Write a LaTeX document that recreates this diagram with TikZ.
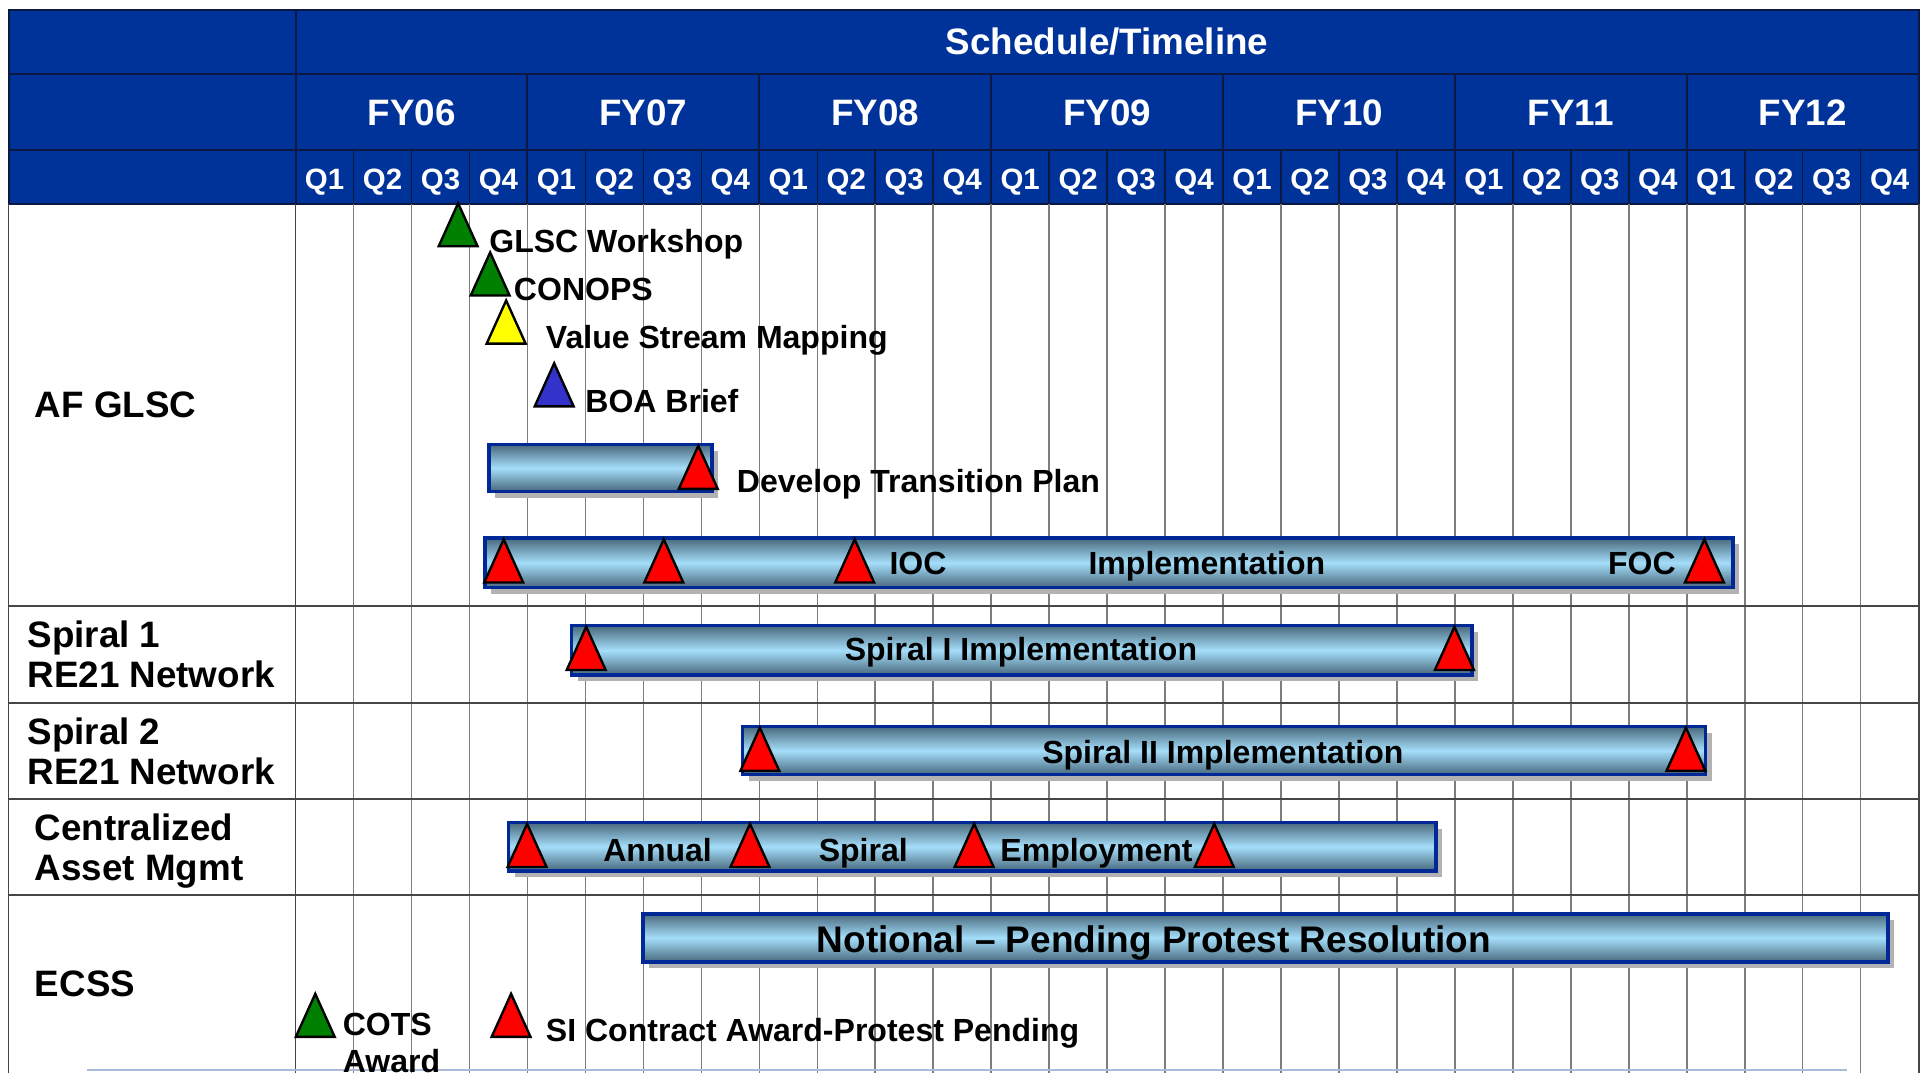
\documentclass[tikz,border=0pt]{standalone}
\usepackage{fontspec}
\setmainfont{Liberation Sans}
\usepackage{tikz}
\usetikzlibrary{shadows}
\usepackage{xcolor}
\definecolor{hdrblue}{RGB}{0,51,153}
\definecolor{hdrline}{RGB}{12,24,64}
\definecolor{barlight}{RGB}{165,222,250}
\definecolor{bardark}{RGB}{72,104,124}
\definecolor{barline}{RGB}{0,40,150}
\definecolor{gridgray}{RGB}{125,125,125}
\definecolor{rowgray}{RGB}{70,70,70}
\definecolor{fadeline}{RGB}{170,185,220}
\definecolor{msgreen}{RGB}{0,128,0}
\definecolor{msyellow}{RGB}{255,255,0}
\definecolor{msblue}{RGB}{51,51,204}
\definecolor{msred}{RGB}{255,0,0}
\tikzstyle{hdrtext} = [text=white, inner sep=0pt, anchor=mid, font=\fontsize{17}{19}\selectfont\bfseries]
\tikzstyle{qtext} = [text=white, inner sep=0pt, anchor=mid, font=\fontsize{13.6}{15}\selectfont\bfseries]
\tikzstyle{rowlabel} = [anchor=west, align=left, inner sep=0pt, font=\fontsize{17}{18.5}\selectfont\bfseries]
\tikzstyle{itemtext} = [inner sep=0pt, anchor=mid, font=\fontsize{14.8}{17}\selectfont\bfseries]
\tikzstyle{taskbar} = [draw=barline, line width=1.7pt, top color=bardark, bottom color=bardark, middle color=barlight, drop shadow={shadow xshift=0.1cm, shadow yshift=-0.1cm, fill=black!30, opacity=1}]
\tikzstyle{mstone} = [draw=black, line width=1.1pt]
\tikzstyle{rowline} = [rowgray, line width=0.8pt]
\newcommand{\msmark}[3]{\draw[mstone, fill=#3] (#1,#2) -- ++(-15.8,35) -- ++(31.6,0) -- cycle;}

\begin{document}
\begin{tikzpicture}[x=0.02cm, y=-0.02cm]
\useasboundingbox[fill=white] (0,0) rectangle (1568,871);

% Header band
\fill[hdrblue] (7,8) rectangle (1558,166);
\draw[hdrline, line width=0.9pt] (7,8) rectangle (1558,166);
\draw[hdrline, line width=0.9pt] (7,60) -- (1558,60) (7,122) -- (1558,122) (240,8) -- (240,166);
\foreach \i in {1,...,6} \draw[hdrline, line width=0.9pt] ({240+4*\i*47.07},60) -- ({240+4*\i*47.07},166);
\foreach \j in {1,...,27} \draw[hdrline, line width=0.7pt] ({240+\j*47.07},122) -- ({240+\j*47.07},166);

% Header texts
\node[hdrtext] (sched) at (899,40) {Schedule/Timeline};
\foreach \yr [count=\i from 0] in {06,07,08,09,10,11,12}
  \node[hdrtext] (fy\yr) at ({240+(4*\i+2)*47.07},97) {FY\yr};
\foreach \j in {0,...,27} {
  \pgfmathtruncatemacro\q{mod(\j,4)+1}
  \node[qtext] (q\j) at ({240+(\j+0.5)*47.07},149) {Q\q};
}

% Body grid
\foreach \j in {1,...,27} \draw[gridgray, line width=0.7pt] ({240+\j*47.07},166) -- ({240+\j*47.07},871);
\draw[rowline] (7,166) -- (7,871) (240,166) -- (240,871) (1558,166) -- (1558,871);
\foreach \r in {492,571,649,727} \draw[rowline] (7,\r) -- (1558,\r);
\draw[fadeline, line width=1pt] (71,869) -- (1500,869);

% Row labels
\node[rowlabel] (afglsc) at (28,329) {AF GLSC};
\node[rowlabel] (spiral1) at (22,531) {Spiral 1\\RE21 Network};
\node[rowlabel] (spiral2) at (22,610) {Spiral 2\\RE21 Network};
\node[rowlabel] (cam) at (28,691) {Centralized\\Asset Mgmt};
\node[rowlabel] (ecss) at (28,799) {ECSS};

% Bars
\path[taskbar] (397,361) rectangle (578,399);
\path[taskbar] (394,437) rectangle (1407,477);
\path[taskbar] (464,508) rectangle (1195,548);
\path[taskbar] (603,590) rectangle (1385,629);
\path[taskbar] (413,668) rectangle (1166,707);
\path[taskbar] (522,742) rectangle (1533,781);

% Milestones
\msmark{372}{165}{msgreen}
\msmark{398}{205}{msgreen}
\msmark{411}{244}{msyellow}
\msmark{450}{295}{msblue}
\msmark{567}{362}{msred}
\foreach \x in {409,539,694,1384} {\msmark{\x}{438}{msred}}
\foreach \x in {476,1181} {\msmark{\x}{509}{msred}}
\foreach \x in {617,1369} {\msmark{\x}{591}{msred}}
\foreach \x in {428,609,791,986} {\msmark{\x}{669}{msred}}
\msmark{256}{807}{msgreen}
\msmark{415}{807}{msred}

% Labels
\node[itemtext, anchor=mid west] (glscws) at (397,200) {GLSC Workshop};
\node[itemtext, anchor=mid west] (conops) at (417,239) {CONOPS};
\node[itemtext, anchor=mid west] (vsm) at (443,278) {Value Stream Mapping};
\node[itemtext, anchor=mid west] (boa) at (475,330) {BOA Brief};
\node[itemtext, anchor=mid west] (dtp) at (598,395) {Develop Transition Plan};
\node[itemtext, anchor=mid west] (ioc) at (722,462) {IOC};
\node[itemtext] (impl) at (980,462) {Implementation};
\node[itemtext, anchor=mid east] (foc) at (1361,462) {FOC};
\node[itemtext] (spiimpl) at (829,532) {Spiral I Implementation};
\node[itemtext] (spiiimpl) at (993,615) {Spiral II Implementation};
\node[itemtext] (annual) at (534,695) {Annual};
\node[itemtext] (spiral) at (701,695) {Spiral};
\node[itemtext, anchor=mid west] (employ) at (812,695) {Employment};
\node[itemtext, font=\fontsize{17.1}{19}\selectfont\bfseries] (notional) at (937,769) {Notional -- Pending Protest Resolution};
\node[itemtext, anchor=west, align=left] (cots) at (278,847) {COTS\\Award};
\node[itemtext, anchor=mid west] (sicontract) at (443,841) {SI Contract Award-Protest Pending};
\end{tikzpicture}
\end{document}
